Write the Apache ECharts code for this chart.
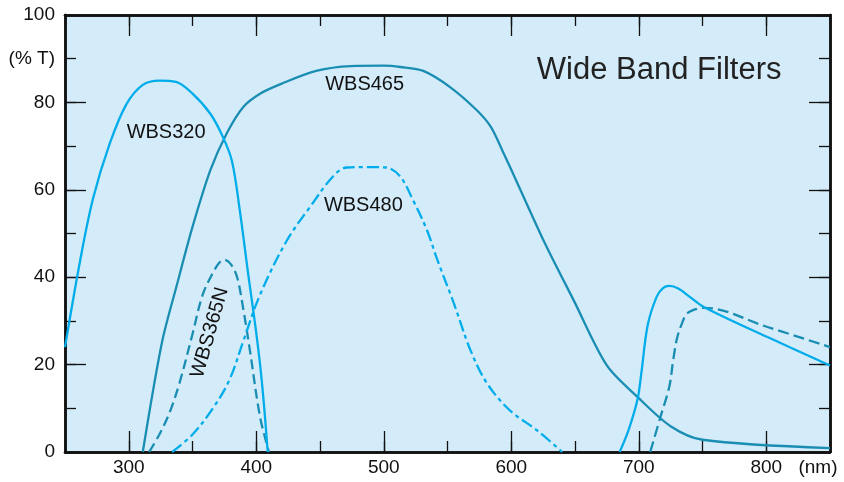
<!DOCTYPE html>
<html>
<head>
<meta charset="utf-8">
<script src="https://cdn.jsdelivr.net/npm/echarts@6/dist/echarts.min.js"></script>
<style>
  html, body { margin: 0; padding: 0; background: #fff; }
  #main { width: 844px; height: 482px; }
</style>
</head>
<body>
<div id="main"></div>
<script>
// wavelength (nm) / transmission (%T)
var wl320 = [250, 262, 272, 285, 298, 311, 324, 337, 350, 364, 374, 381, 387, 394, 399, 403, 406, 409];
var t320 = [24, 44, 58, 70.5, 79.5, 84, 85, 84.7, 82, 77.4, 72, 66.5, 55.5, 40, 29.5, 20, 11, 0];
var wl320Red = [685, 692, 699, 702, 707, 714, 719, 724, 731, 740, 751, 801, 850];
var t320Red = [0, 5, 12, 18, 29, 35.5, 37.5, 38, 37.4, 35.5, 33.2, 26.3, 19.8];

var wl465 = [311, 326, 338, 350, 364, 377, 390, 403, 420, 447, 474, 500, 513, 531, 552, 573, 584, 593, 605, 626, 649, 675, 699, 725, 750, 850];
var t465 = [0, 25, 38.5, 51.5, 64.5, 73, 79, 82, 84.3, 87.2, 88.3, 88.4, 88.1, 87.2, 83.5, 78.2, 74.4, 69, 61.4, 48, 34.7, 19.8, 12.6, 5.9, 2.8, 0.9];

var wl365 = [316, 324, 332, 340, 350, 358, 366, 371, 375, 380, 385, 390, 395, 403, 410];
var t365 = [0, 4, 9, 16, 27, 36, 41, 43.3, 44, 43, 40, 32.4, 23.3, 8, 0];
var wl365Red = [709, 717, 724, 727, 730, 734, 738, 746, 751, 801, 850];
var t365Red = [0, 8, 15, 21, 26, 29.5, 31.7, 32.8, 33, 28.6, 24];

var wl480 = [334, 350, 366, 379, 390, 403, 424, 442, 460, 471, 487, 502, 513, 523, 534, 542, 555, 568, 581, 599, 620, 640];
var t480 = [0, 4, 10, 16.5, 25.5, 36, 48.4, 56, 63, 65.1, 65.2, 65.1, 63, 57.6, 50.7, 44, 34, 23.3, 15.7, 9.5, 5, 0];

var xMajor = [300, 400, 500, 600, 700, 800];
var xLabels = [300, 400, 500, 600, 700, 800, 850];

// label name, wavelength, %T, rotation (deg)
var curveLabels = [
    ["WBS320", 329.3, 73.2, 0],
    ["WBS465", 485, 84.2, 0],
    ["WBS480", 484, 56.5, 0],
    ["WBS365N", 363.6, 27.3, 74]
];
var title = ["Wide Band Filters", 716, 87.3];

var FONT = '"Liberation Sans", Arial, Helvetica, sans-serif';
var BRIGHT = "#00adea";
var TEAL = "#1a8db3";
var INK = "#111";

function pairs(xs, ys) {
    var out = [];
    for (var i = 0; i < xs.length; i++) out.push([xs[i], ys[i]]);
    return out;
}

function xAxisOf(grid, pos, major) {
    return {
        type: "value",
        gridIndex: grid,
        position: pos,
        min: 250,
        max: 850,
        interval: 50,
        axisLine: { show: true, onZero: false, lineStyle: { color: INK, width: 2.5 } },
        axisTick: major
            ? { show: true, inside: true, length: 21, customValues: xMajor, lineStyle: { color: INK, width: 1.3 } }
            : { show: true, inside: true, length: 11, lineStyle: { color: INK, width: 1.3 } },
        axisLabel: { show: false },
        splitLine: { show: false }
    };
}

function yAxisOf(grid, pos, major) {
    return {
        type: "value",
        gridIndex: grid,
        position: pos,
        min: 0,
        max: 100,
        interval: major ? 20 : 10,
        axisLine: { show: true, onZero: false, lineStyle: { color: INK, width: 2.5 } },
        axisTick: { show: true, inside: true, length: major ? 21 : 11, lineStyle: { color: INK, width: 1.3 } },
        axisLabel: { show: false },
        splitLine: { show: false }
    };
}

var chartDom = document.getElementById("main");
var myChart = echarts.init(chartDom);

var xAxes = [
    xAxisOf(0, "bottom", true),
    xAxisOf(0, "top", true),
    xAxisOf(1, "bottom", false),
    xAxisOf(1, "top", false)
];
xAxes[0].axisLabel = {
    show: true,
    customValues: xLabels,
    margin: 6,
    color: "#111",
    fontFamily: FONT,
    fontSize: 19,
    formatter: function (v) {
        return v === 850 ? "{nm|(nm)}" : String(v);
    },
    rich: { nm: { fontFamily: FONT, fontSize: 19, color: "#111", padding: [0, 24, 0, 0] } }
};

var yAxes = [
    yAxisOf(0, "left", true),
    yAxisOf(0, "right", true),
    yAxisOf(1, "left", false),
    yAxisOf(1, "right", false)
];
yAxes[0].axisLabel = { show: true, margin: 10, color: "#111", fontFamily: FONT, fontSize: 19 };
yAxes[2].axisLabel = {
    show: true,
    margin: 10,
    color: "#111",
    fontFamily: FONT,
    fontSize: 19,
    formatter: function (v) {
        return v === 90 ? "(% T)" : "";
    }
};

function line(name, data, color, type, smooth) {
    return {
        name: name,
        type: "line",
        xAxisIndex: 0,
        yAxisIndex: 0,
        data: data,
        showSymbol: false,
        smooth: smooth,
        silent: true,
        lineStyle: { color: color, width: 2.3, type: type }
    };
}

var option = {
    animation: false,
    backgroundColor: "#fff",
    grid: [
        { left: 65, right: 14, top: 15, bottom: 30, show: true, backgroundColor: "#d4ecf9", borderWidth: 0 },
        { left: 65, right: 14, top: 15, bottom: 30, show: false }
    ],
    xAxis: xAxes,
    yAxis: yAxes,
    series: [
        line("WBS465", pairs(wl465, t465), TEAL, "solid", 0.3),
        line("WBS365N", pairs(wl365, t365), TEAL, [10, 5], 0.35),
        line("WBS365N", pairs(wl365Red, t365Red), TEAL, [11, 5], 0.35),
        line("WBS480", pairs(wl480, t480), BRIGHT, [12, 4, 4, 4], 0.35),
        line("WBS320", pairs(wl320, t320), BRIGHT, "solid", 0.35),
        line("WBS320", pairs(wl320Red, t320Red), BRIGHT, "solid", 0.35)
    ]
};

option && myChart.setOption(option);

// curve names and title placed in data coordinates
var graphics = curveLabels.map(function (l) {
    var p = myChart.convertToPixel({ xAxisIndex: 0, yAxisIndex: 0 }, [l[1], l[2]]);
    return {
        type: "text",
        x: p[0],
        y: p[1],
        rotation: (l[3] * Math.PI) / 180,
        z: 100,
        style: { text: l[0], fill: "#111", font: "20px " + FONT, textAlign: "center", textVerticalAlign: "middle" }
    };
});
var tp = myChart.convertToPixel({ xAxisIndex: 0, yAxisIndex: 0 }, [title[1], title[2]]);
graphics.push({
    type: "text",
    x: tp[0],
    y: tp[1],
    z: 100,
    style: { text: title[0], fill: "#222", font: "31px " + FONT, textAlign: "center", textVerticalAlign: "middle" }
});
myChart.setOption({ graphic: graphics });
</script>
</body>
</html>
